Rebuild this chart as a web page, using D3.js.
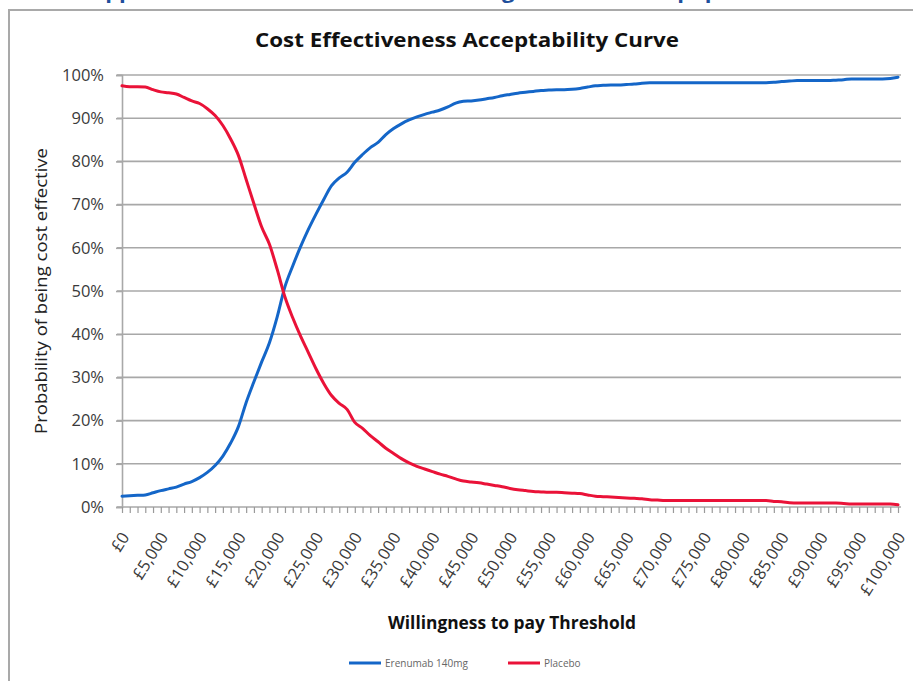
<!DOCTYPE html>
<html>
<head>
<meta charset="utf-8">
<script src="https://cdn.jsdelivr.net/npm/d3@7"></script>
<style>
  html, body { margin: 0; padding: 0; background: #fff; }
  svg { display: block; font-family: "Open Sans", "DejaVu Sans", sans-serif; }
</style>
</head>
<body>
<svg id="chart" width="913" height="681"></svg>
<script>
// ---- data ----
const thresholds = d3.range(0, 101).map(k => k * 1000); // £0 .. £100,000 step £1,000
const erenumab = [
  2.5, 2.6, 2.7, 2.8, 3.3, 3.8, 4.2, 4.6, 5.3, 5.9,
  6.8, 8.0, 9.6, 11.8, 14.8, 18.6, 24.2, 29.0, 33.6, 38.0,
  44.0, 51.0, 55.8, 60.2, 64.2, 67.8, 71.2, 74.4, 76.2, 77.5,
  79.8, 81.6, 83.2, 84.4, 86.2, 87.6, 88.7, 89.6, 90.3, 90.9,
  91.4, 91.9, 92.6, 93.5, 93.9, 94.0, 94.2, 94.5, 94.8, 95.2,
  95.5, 95.8, 96.0, 96.2, 96.4, 96.5, 96.6, 96.6, 96.7, 96.9,
  97.2, 97.5, 97.6, 97.7, 97.7, 97.8, 97.9, 98.1, 98.2, 98.2,
  98.2, 98.2, 98.2, 98.2, 98.2, 98.2, 98.2, 98.2, 98.2, 98.2,
  98.2, 98.2, 98.2, 98.2, 98.3, 98.5, 98.6, 98.7, 98.7, 98.7,
  98.7, 98.7, 98.8, 98.9, 99.1, 99.1, 99.1, 99.1, 99.1, 99.2,
  99.5
];
const placebo = [
  97.5, 97.3, 97.3, 97.2, 96.6, 96.1, 95.9, 95.6, 94.8, 94.0,
  93.4, 92.2, 90.6, 88.3, 85.2, 81.4, 75.8, 70.2, 64.8, 60.8,
  55.0, 48.6, 43.8, 39.6, 35.8, 32.0, 28.6, 25.8, 24.0, 22.6,
  19.6, 18.2, 16.5, 15.1, 13.6, 12.4, 11.2, 10.2, 9.4, 8.8,
  8.2, 7.6, 7.1, 6.5, 6.0, 5.8, 5.6, 5.3, 5.0, 4.7,
  4.3, 4.0, 3.8, 3.6, 3.5, 3.4, 3.4, 3.3, 3.2, 3.1,
  2.8, 2.5, 2.4, 2.3, 2.2, 2.1, 2.0, 1.9, 1.7, 1.6,
  1.5, 1.5, 1.5, 1.5, 1.5, 1.5, 1.5, 1.5, 1.5, 1.5,
  1.5, 1.5, 1.5, 1.5, 1.3, 1.2, 1.0, 0.9, 0.9, 0.9,
  0.9, 0.9, 0.9, 0.8, 0.7, 0.7, 0.7, 0.7, 0.7, 0.7,
  0.5
];
const seriesNames = ["Erenumab 140mg", "Placebo"];
const seriesColors = ["#1466c8", "#ea1238"];
const yTicks = [0, 10, 20, 30, 40, 50, 60, 70, 80, 90, 100];
const xLabelTicks = d3.range(0, 100001, 5000);
const xMinorTicks = d3.range(0, 100001, 1000);
const titleText = "Cost Effectiveness Acceptability Curve";
const xTitle = "Willingness to pay Threshold";
const yTitle = "Probability of being cost effective";
// NOTE: in the reference, the blue page heading is cut off by the top edge.
// Only the descenders show, so its words cannot be read. The wording below is a
// GUESS, chosen only so that the visible fragments land in the same places.
// It is not text read from the source.
const headerText = "Appendix 5: CEAC for erenumab 140mg in the chronic population";

// ---- layout ----
const svg = d3.select("#chart");
const x = d3.scaleLinear().domain([0, 100000]).range([122, 898]);
const y = d3.scaleLinear().domain([0, 100]).range([507, 75]);

// header text of the page, cut off by the top edge as in the source image (wording guessed, see note above)
svg.append("text")
  .attr("x", 90).attr("y", -2)
  .attr("font-size", 22).attr("font-weight", 700)
  .attr("fill", "#1f4f9c")
  .text(headerText);

// frame
svg.append("path")
  .attr("d", "M9,681 V10 H913")
  .attr("fill", "none").attr("stroke", "#a9a9a9").attr("stroke-width", 2);

// title
svg.append("text")
  .attr("x", 467).attr("y", 47)
  .attr("text-anchor", "middle")
  .attr("font-size", 20).attr("font-weight", 700).attr("fill", "#111")
  .attr("textLength", 424).attr("lengthAdjust", "spacingAndGlyphs")
  .text(titleText);

// gridlines
svg.append("g").selectAll("line").data(yTicks.filter(d => d > 0)).join("line")
  .attr("x1", x(0) - 5).attr("x2", 901)
  .attr("y1", d => y(d)).attr("y2", d => y(d))
  .attr("stroke", "#a8a8a8").attr("stroke-width", 1.6);

// y axis
const yAxis = d3.axisLeft(y).tickValues(yTicks).tickFormat(d => d + "%").tickSize(6).tickPadding(12);
const gy = svg.append("g").attr("transform", `translate(${x(0)},0)`).call(yAxis);
gy.select(".domain").attr("stroke", "#a8a8a8").attr("stroke-width", 1.6);
gy.selectAll(".tick line").attr("stroke", "#a8a8a8").attr("stroke-width", 1.6);
gy.selectAll(".tick text").attr("font-size", 16.5).attr("fill", "#3a3a3a")
  .attr("font-family", "'Open Sans', sans-serif");

// x axis (minor ticks every £1,000)
const xAxisMinor = d3.axisBottom(x).tickValues(xMinorTicks).tickFormat("").tickSize(6).tickSizeOuter(0);
const gxm = svg.append("g").attr("transform", `translate(0,${y(0)})`).call(xAxisMinor);
gxm.select(".domain").attr("stroke", "#a8a8a8").attr("stroke-width", 1.6).attr("d", `M${x(0)-5},0H901`);
gxm.selectAll(".tick line").attr("stroke", "#9a9a9a").attr("stroke-width", 1.2);

// x labels
const fmt = d3.format(",");
svg.append("g").selectAll("text").data(xLabelTicks).join("text")
  .attr("transform", d => `translate(${x(d) + 8},${y(0) + 30}) rotate(-58)`)
  .attr("text-anchor", "end")
  .attr("font-size", 16.5).attr("fill", "#3a3a3a")
  .text(d => "£" + fmt(d));

// axis titles
svg.append("text")
  .attr("transform", `translate(47,291) rotate(-90)`)
  .attr("text-anchor", "middle")
  .attr("font-size", 17).attr("fill", "#222")
  .attr("textLength", 286).attr("lengthAdjust", "spacingAndGlyphs")
  .text(yTitle);
svg.append("text")
  .attr("x", 512).attr("y", 629)
  .attr("text-anchor", "middle")
  .attr("font-size", 17).attr("font-weight", 700).attr("fill", "#111")
  .attr("textLength", 248).attr("lengthAdjust", "spacingAndGlyphs")
  .text(xTitle);

// lines
const line = d3.line().x(d => x(d[0])).y(d => y(d[1])).curve(d3.curveMonotoneX);
[erenumab, placebo].forEach((vals, i) => {
  svg.append("path")
    .datum(thresholds.map((t, k) => [t, vals[k]]))
    .attr("fill", "none")
    .attr("stroke", seriesColors[i])
    .attr("stroke-width", 3)
    .attr("stroke-linejoin", "round")
    .attr("stroke-linecap", "round")
    .attr("d", line);
});

// legend
const legendX = [349, 508];
const leg = svg.append("g");
seriesNames.forEach((name, i) => {
  leg.append("line")
    .attr("x1", legendX[i]).attr("x2", legendX[i] + 32)
    .attr("y1", 663).attr("y2", 663)
    .attr("stroke", seriesColors[i]).attr("stroke-width", 3);
  leg.append("text")
    .attr("x", legendX[i] + 36).attr("y", 667)
    .attr("font-size", 10).attr("fill", "#666")
    .text(name);
});
</script>
</body>
</html>
